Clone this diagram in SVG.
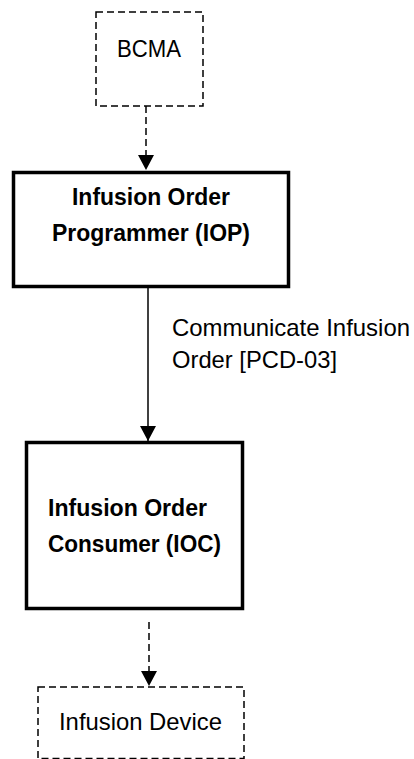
<svg xmlns="http://www.w3.org/2000/svg" width="414" height="759" viewBox="0 0 414 759">
<style>
.dash{fill:#fff;stroke:#000;stroke-width:1.5;stroke-dasharray:7 4}
.solid{fill:#fff;stroke:#000;stroke-width:3.5}
.t{font-family:"Liberation Sans",Arial,sans-serif;font-size:24px;fill:#000}
.b{font-family:"Liberation Sans",Arial,sans-serif;font-size:23px;font-weight:bold;fill:#000}
.c{stroke:#000;stroke-width:1.5;fill:none}
.cd{stroke:#000;stroke-width:1.5;fill:none;stroke-dasharray:7 4}
</style>
<defs>
<marker id="ah" markerWidth="16" markerHeight="16" refX="15" refY="8" orient="auto" markerUnits="userSpaceOnUse">
<path d="M0,0 L15,8 L0,16 Z" fill="#000"/>
</marker>
</defs>
<rect width="414" height="759" fill="#fff"/>
<g id="connectors">
<line class="cd" x1="146" y1="106" x2="146" y2="170" marker-end="url(#ah)"/>
<line class="c" x1="148" y1="288" x2="148" y2="441" marker-end="url(#ah)"/>
<line class="cd" x1="149" y1="622" x2="149" y2="686" marker-end="url(#ah)"/>
<text class="t" x="172" y="336" textLength="238" lengthAdjust="spacingAndGlyphs">Communicate Infusion</text>
<text class="t" x="172" y="368" textLength="165" lengthAdjust="spacingAndGlyphs">Order [PCD-03]</text>
</g>
<g id="bcma">
<rect class="dash" x="96" y="12" width="107" height="94"/>
<text class="t" x="117" y="57" textLength="64" lengthAdjust="spacingAndGlyphs">BCMA</text>
</g>
<g id="iop">
<rect class="solid" x="13.5" y="172.5" width="275" height="114"/>
<text class="b" x="72" y="205" textLength="158" lengthAdjust="spacingAndGlyphs">Infusion Order</text>
<text class="b" x="52" y="241" textLength="198" lengthAdjust="spacingAndGlyphs">Programmer (IOP)</text>
</g>
<g id="ioc">
<rect class="solid" x="26.5" y="442.5" width="216" height="166"/>
<text class="b" x="48" y="516" textLength="159" lengthAdjust="spacingAndGlyphs">Infusion Order</text>
<text class="b" x="48" y="552" textLength="173" lengthAdjust="spacingAndGlyphs">Consumer (IOC)</text>
</g>
<g id="device">
<rect class="dash" x="38" y="687" width="206" height="71.5"/>
<text class="t" x="59" y="730" textLength="163" lengthAdjust="spacingAndGlyphs">Infusion Device</text>
</g>
</svg>
